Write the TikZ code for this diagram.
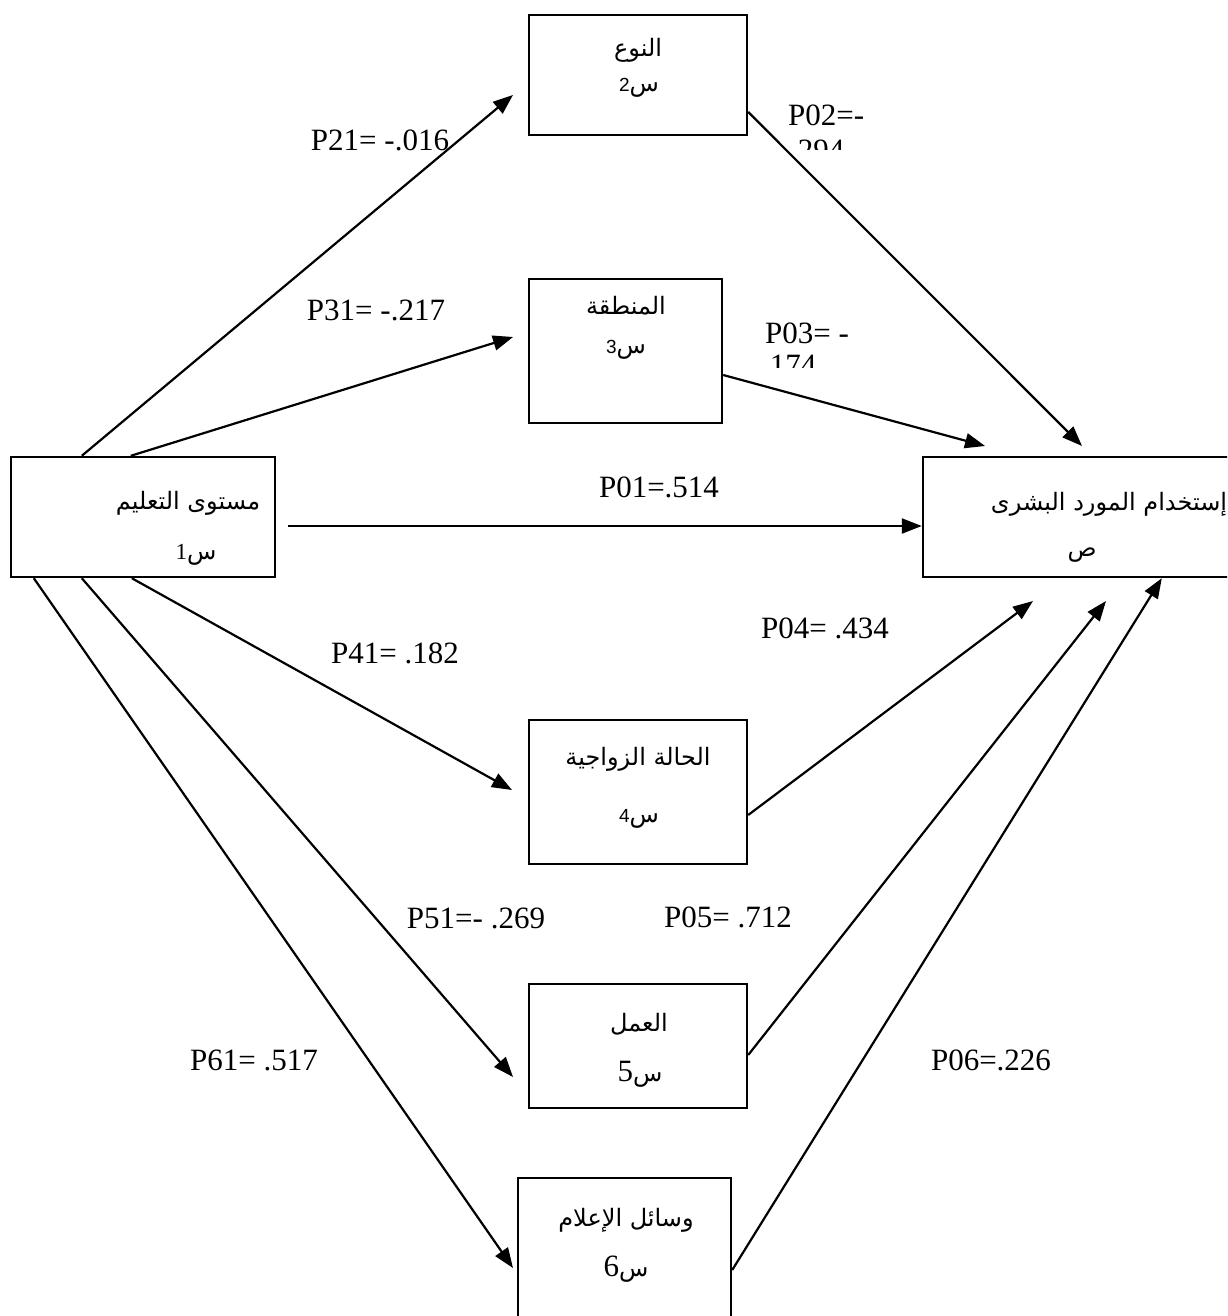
\documentclass[tikz,border=0pt]{standalone}
\usepackage{fontspec}
\setmainfont{Liberation Serif}
\newfontfamily\arabicfont[Script=Arabic]{DejaVu Sans}
\newfontfamily\digitsans{Liberation Sans}
\TeXXeTstate=1
\usetikzlibrary{arrows.meta}

\begin{document}
\begin{tikzpicture}[x=1pt, y=-1pt]
            \tikzset{varbox/.style={rectangle, draw=black, line width=2.4pt, inner sep=0pt},
                artext/.style={font=\arabicfont\fontsize{24}{28}\selectfont, inner sep=0pt},
                plabel/.style={font=\fontsize{31}{36}\selectfont, inner sep=0pt},
                link/.style={line width=2.2pt, arrows={-Triangle[length=20pt, width=15pt]}}}

        \useasboundingbox (0,0) rectangle (1227,1316);
        \clip (0,0) rectangle (1227,1316);

        % boxes
        \node[varbox, minimum width=218pt, minimum height=120pt] (gender) at (638,75) {};
        \node[varbox, minimum width=193pt, minimum height=144pt] (region) at (625.5,351) {};
        \node[varbox, minimum width=264pt, minimum height=120pt] (edu) at (143,517) {};
        \node[varbox, minimum width=309pt, minimum height=120pt] (hr) at (1077.5,517) {};
        \node[varbox, minimum width=218pt, minimum height=144pt] (marital) at (638,792) {};
        \node[varbox, minimum width=218pt, minimum height=124pt] (work) at (638,1046) {};
        \node[varbox, minimum width=213pt, minimum height=160pt] (media) at (624.5,1258) {};

        \node[artext] (gender-name) at (638,50) {\beginR النوع\endR};
        \node[artext] (gender-sym) at (639,88) {{\digitsans\fontsize{19}{22}\selectfont 2}\beginR س\endR};
        \node[artext] (region-name) at (626,306) {\beginR المنطقة\endR};
        \node[artext] (region-sym) at (626,350) {{\digitsans\fontsize{19}{22}\selectfont 3}\beginR س\endR};
        \node[artext] (edu-name) at (188,503) {\beginR مستوى التعليم\endR};
        \node[artext] (edu-sym) at (196,555) {{\rmfamily\fontsize{23}{26}\selectfont 1}\beginR س\endR};
        \node[artext] (hr-name) at (1109,504) {\beginR إستخدام المورد البشرى\endR};
        \node[artext] (hr-sym) at (1082,555) {\beginR ص\endR};
        \node[artext] (marital-name) at (638,759) {\beginR الحالة الزواجية\endR};
        \node[artext] (marital-sym) at (639,819) {{\digitsans\fontsize{19}{22}\selectfont 4}\beginR س\endR};
        \node[artext] (work-name) at (639,1024) {\beginR العمل\endR};
        \node[artext] (work-sym) at (640,1074) {{\rmfamily\fontsize{31}{36}\selectfont 5}\beginR س\endR};
        \node[artext] (media-name) at (626,1220) {\beginR وسائل الإعلام\endR};
        \node[artext] (media-sym) at (626,1269) {{\rmfamily\fontsize{31}{36}\selectfont 6}\beginR س\endR};

        % free arrow ends
        \coordinate (t21) at (513,95);
        \coordinate (t31) at (513,337);
        \coordinate (t41) at (512,790);
        \coordinate (t51) at (513,1077);
        \coordinate (t61) at (513,1268);
        \coordinate (t02) at (1082,446);
        \coordinate (t03) at (985,446);
        \coordinate (t04) at (1033,601);
        \coordinate (t05) at (1106,601);

        \draw[link] ([xshift=72pt]edu.north west) to (t21);
        \draw[link] ([xshift=121pt]edu.north west) to (t31);
        \draw[link] ([xshift=12pt, yshift=-9pt]edu.east) to ([yshift=-9pt]hr.west);
        \draw[link] ([xshift=122pt]edu.south west) to (t41);
        \draw[link] ([xshift=72pt]edu.south west) to (t51);
        \draw[link] ([xshift=24pt]edu.south west) to (t61);

        \draw[link] ([yshift=-37pt]gender.east) to (t02);
        \draw[link] ([yshift=-24pt]region.east) to (t03);
        \draw[link] ([yshift=-23pt]marital.east) to (t04);
        \draw[link] ([yshift=-9pt]work.east) to (t05);
        \draw[link] ([yshift=-12pt]media.east) to ([xshift=240pt]hr.south west);

        % coefficients
        \node[plabel] (p21) at (380,140) {P21= -.016};
        \node[plabel] (p31) at (376,310) {P31= -.217};
        \node[plabel] (p01) at (659,487) {P01=.514};
        \node[plabel] (p04) at (825,628) {P04= .434};
        \node[plabel] (p41) at (395,653) {P41= .182};
        \node[plabel] (p51) at (476,918) {P51=- .269};
        \node[plabel] (p05) at (728,917) {P05= .712};
        \node[plabel] (p61) at (254,1060) {P61= .517};
        \node[plabel] (p06) at (991,1060) {P06=.226};

        \node[plabel, anchor=west] (p02) at (788,115) {P02=-};
        \node[plabel, anchor=west] (p03) at (765,333) {P03= -};
        \begin{scope}
        \clip (700,100) rectangle (900,150);
        \node[plabel, anchor=west] (p02b) at (790,150.5) {.294};
        \end{scope}
        \begin{scope}
        \clip (700,340) rectangle (900,367);
        \node[plabel, anchor=west] (p03b) at (762,365.5) {.174};
        \end{scope}

        \end{tikzpicture}
\end{document}
